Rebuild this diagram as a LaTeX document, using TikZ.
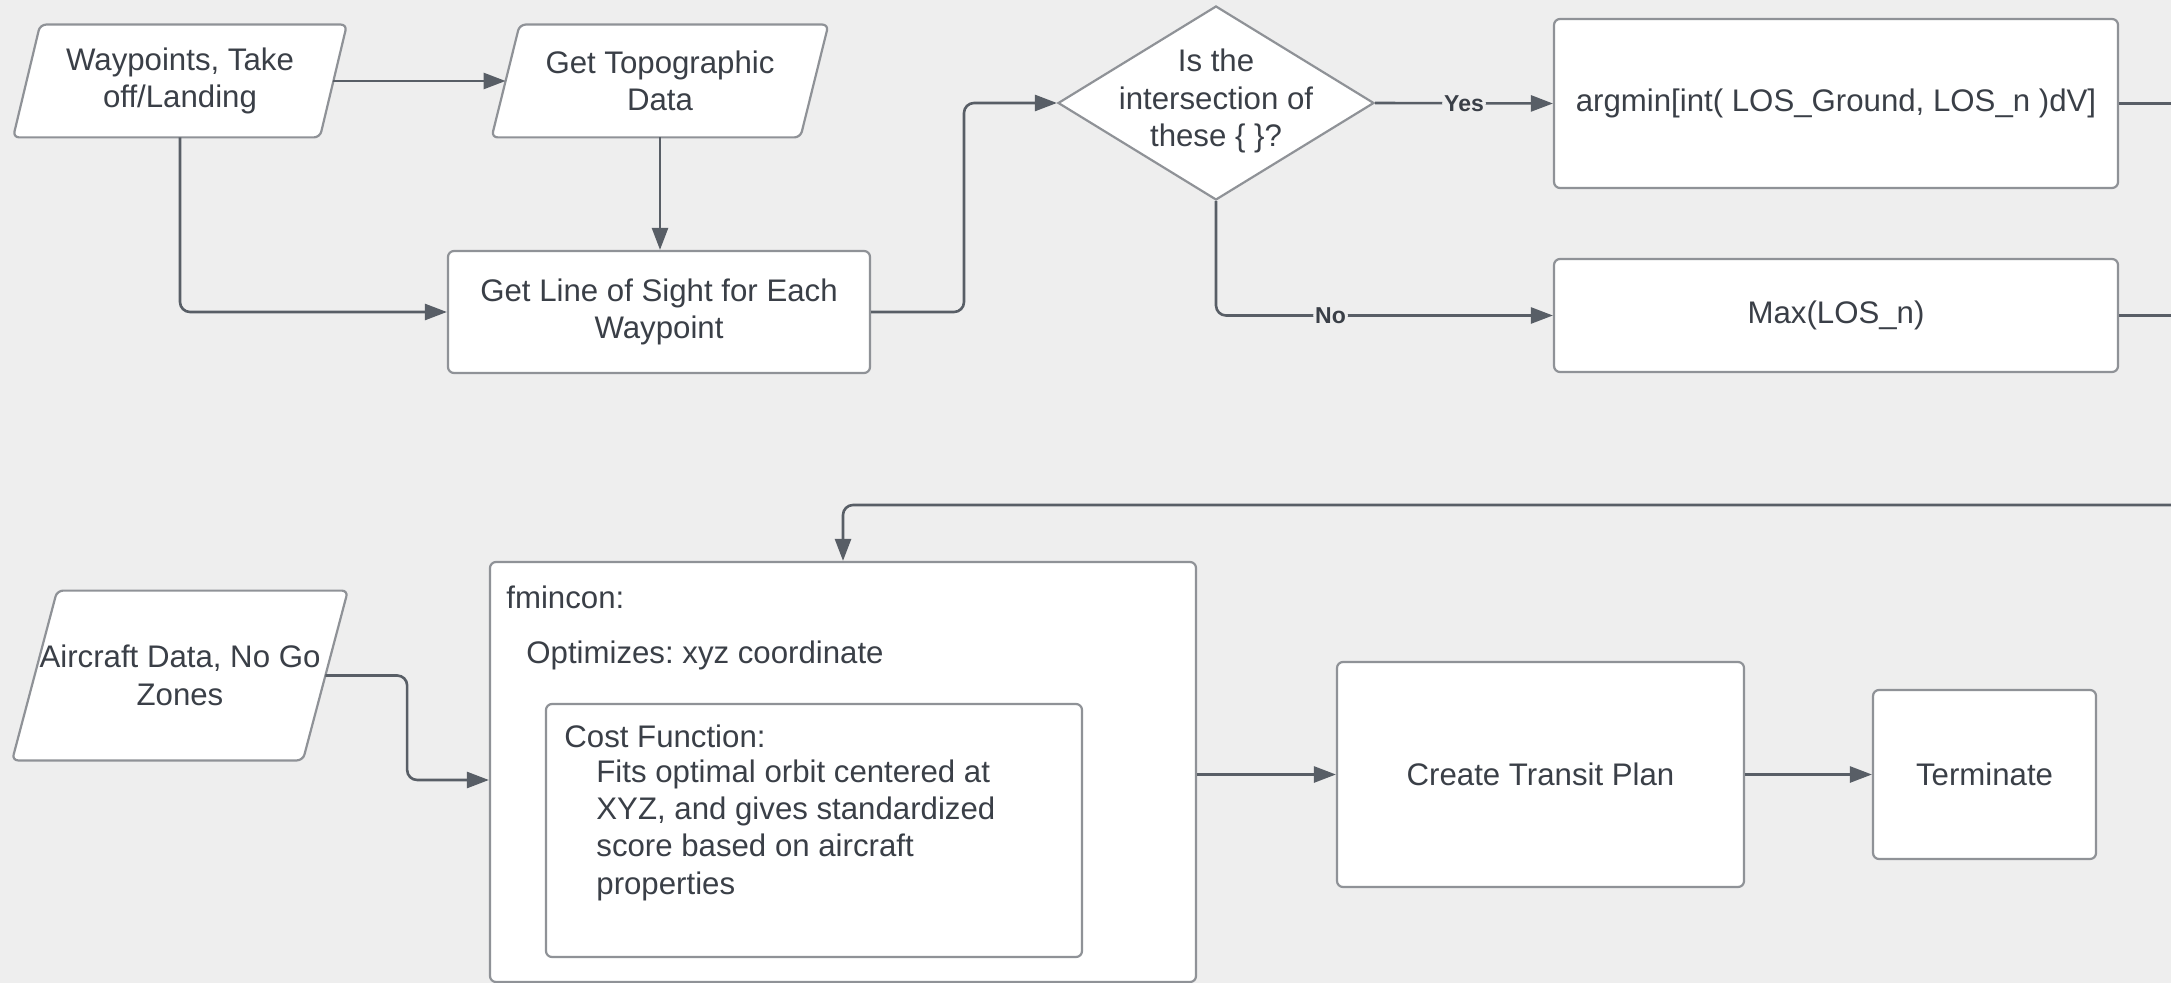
\documentclass[tikz,border=0pt]{standalone}
\usepackage{fontspec}
\setmainfont{Liberation Sans}
\usetikzlibrary{shapes.geometric,calc,arrows.meta}
\frenchspacing

\definecolor{canvas}{HTML}{EEEEEE}
\definecolor{edge}{HTML}{8F9297}
\definecolor{wire}{HTML}{585E66}
\definecolor{ink}{HTML}{3A3F47}

\pgfdeclarelayer{bg}
\pgfdeclarelayer{shapes}
\pgfsetlayers{bg,shapes,main}

% outline of a data (parallelogram) block around a text node: #1 node, #2 half slant
\newcommand\datablock[2]{%
  \begin{pgfonlayer}{shapes}
    \draw[boxedge] ([xshift=-#2]#1.south west) -- ([xshift=#2]#1.north west)
      -- ([xshift=#2]#1.north east) -- ([xshift=-#2]#1.south east) -- cycle;
  \end{pgfonlayer}}

\tikzset{
  boxedge/.style={draw=edge, line width=1.1pt, fill=white, rounded corners=3pt},
  box/.style={boxedge, inner sep=0pt, align=center},
  datatext/.style={inner sep=0pt, align=center},
  conn/.style={draw=wire, line width=1.3pt, rounded corners=5pt,
    -{Triangle[length=11pt,width=8pt]}},
  wireonly/.style={draw=wire, line width=1.3pt, rounded corners=5pt},
  tag/.style={font=\fontsize{11.5}{13}\selectfont\bfseries, fill=canvas,
    inner sep=1pt, text=ink},
}

\begin{document}
\begin{tikzpicture}[x=0.5pt, y=-0.5pt, font=\fontsize{15.6}{18.7}\selectfont, text=ink]
  \begin{pgfonlayer}{bg}
    \fill[canvas] (0,0) rectangle (2171,983);
  \end{pgfonlayer}
  \useasboundingbox (0,0) rectangle (2171,983);

  % ---- upper row ----
  \node[datatext, minimum width=153pt, minimum height=56pt] (way) at (180,81)
    {Waypoints, Take\\off/Landing};
  \datablock{way}{6.75pt}
  \node[datatext, minimum width=154pt, minimum height=56pt] (topo) at (660,81)
    {Get Topographic\\Data};
  \datablock{topo}{7pt}
  \node[box, minimum width=211pt, minimum height=61pt] (los) at (659,312)
    {Get Line of Sight for Each\\Waypoint};

  \node[diamond, draw=edge, line width=1.1pt, fill=white, inner sep=0pt,
        minimum width=158pt, minimum height=97pt] (dec) at (1216,103) {};
  \node[align=center] at ([yshift=1pt]dec.center) {Is the\\intersection of\\these \{ \}?};

  \node[box, minimum width=282pt, minimum height=84.5pt] (argmin) at (1836,103.5)
    {argmin[int( LOS\_Ground, LOS\_n )dV]};
  \node[box, minimum width=282pt, minimum height=56.5pt] (maxlos) at (1836,315.5)
    {Max(LOS\_n)};

  % ---- lower row ----
  \node[datatext, minimum width=145pt, minimum height=84.5pt] (air) at (180,675.5)
    {Aircraft Data, No Go\\Zones};
  \datablock{air}{11.25pt}

  \node[box, minimum width=353pt, minimum height=210pt] (fmin) at (843,772) {};
  \node[anchor=west, inner sep=0pt] (fminlbl) at (506,597) {fmincon:};
  \node[anchor=west, inner sep=0pt] (optlbl) at (526,655) {Optimizes: xyz coordinate};
  \node[box, minimum width=268pt, minimum height=126.5pt] (cost) at (814,830.5) {};
  \node[anchor=west, inner sep=0pt] (costlbl) at (564,736) {Cost Function:};
  \node[anchor=north west, inner sep=0pt, align=left] (costtxt) at (596,759)
    {Fits optimal orbit centered at\\XYZ, and gives standardized\\score based on aircraft\\properties};

  \node[box, minimum width=203.5pt, minimum height=112.5pt] (transit) at (1540.5,774.5)
    {Create Transit Plan};
  \node[box, minimum width=111.5pt, minimum height=84.5pt] (term) at (1984.5,774.5)
    {Terminate};

  % ---- connectors ----
  \draw[conn] (way.east) -- (topo.west);
  \draw[conn] (way.south) |- (los.west);
  \draw[conn] (topo.south) -- (topo.south |- los.north);
  \draw[conn] (los.east) -| ($(los.east)!0.5!(dec.west)$) |- (dec.west);
  \draw[conn] (dec.east) -- node[tag] {Yes} (argmin.west);
  \draw[conn] (dec.south) |- node[tag, pos=0.67] {No} (maxlos.west);

  \coordinate (rail) at (2186,505);
  \draw[conn] (argmin.east) -| (rail) -| (fmin.north);
  \draw[wireonly] (maxlos.east) -| (rail);

  \coordinate (fminin) at ([yshift=-4pt]fmin.west);
  \draw[conn] (air.east) -| ($(air.east)!0.5!(fminin)$) |- (fminin);
  \draw[conn] (fmin.east |- transit.west) -- (transit.west);
  \draw[conn] (transit.east) -- (term.west);
\end{tikzpicture}
\end{document}
